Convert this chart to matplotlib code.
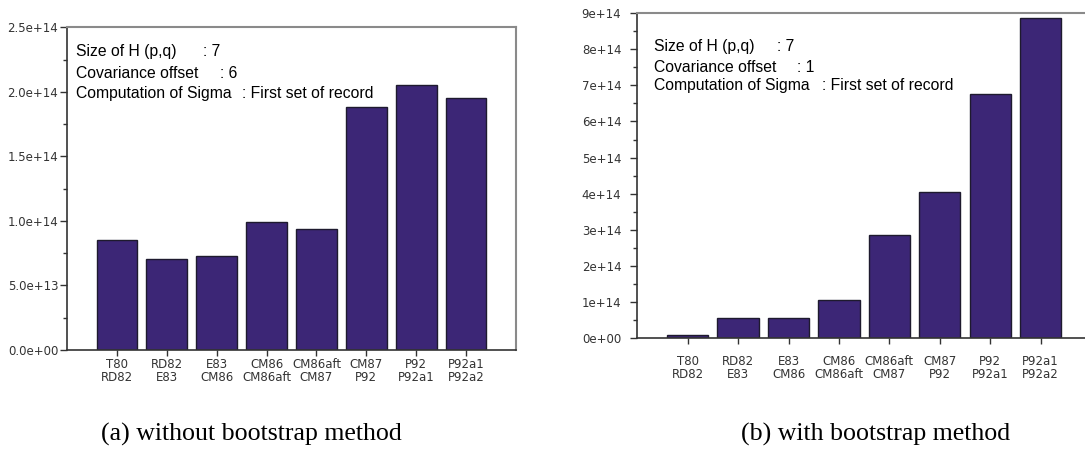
import matplotlib.pyplot as plt
from matplotlib.ticker import MultipleLocator, FuncFormatter

pairs = ['T80\nRD82', 'RD82\nE83', 'E83\nCM86', 'CM86\nCM86aft',
         'CM86aft\nCM87', 'CM87\nP92', 'P92\nP92a1', 'P92a1\nP92a2']

# (a) without bootstrap method
values_a = [8.5e13, 7.03e13, 7.26e13, 9.92e13, 9.39e13, 1.886e14, 2.052e14, 1.953e14]
# (b) with bootstrap method
values_b = [8.4e12, 5.53e13, 5.53e13, 1.04e14, 2.85e14, 4.05e14, 6.75e14, 8.87e14]

info_labels = ['Size of H (p,q)', 'Covariance offset', 'Computation of Sigma']
info_a = [': 7', ': 6', ': First set of record']
info_b = [': 7', ': 1', ': First set of record']

bar_color = '#3c2676'
edge_color = '#1e1a2e'
tick_color = '#333333'

plt.rcParams['font.family'] = ['Liberation Sans', 'DejaVu Sans']

fig = plt.figure(figsize=(10.85, 4.5), dpi=100)

ax1 = fig.add_axes([0.0619, 0.2227, 0.4136, 0.7162])
ax2 = fig.add_axes([0.5874, 0.2489, 0.4182, 0.7218])

x = list(range(len(pairs)))

def style(ax, ypad, xpad):
    ax.set_xlim(-1, 8)
    ax.set_xticks(x)
    ax.set_xticklabels(pairs, fontsize=8.5, family='DejaVu Sans',
                       linespacing=1.0, color=tick_color)
    ax.tick_params(axis='x', length=4, width=1, pad=xpad, colors=tick_color)
    ax.tick_params(axis='y', which='major', length=5, width=1, pad=ypad,
                   labelsize=8.5, colors=tick_color)
    ax.tick_params(axis='y', which='minor', length=3, width=1, colors=tick_color)
    for t in ax.get_yticklabels():
        t.set_family('DejaVu Sans')
    ax.spines['left'].set_color('#333333')
    ax.spines['bottom'].set_color('#333333')
    ax.spines['left'].set_linewidth(1.2)
    ax.spines['bottom'].set_linewidth(1.2)
    ax.spines['top'].set_color('#8a8a8a')
    ax.spines['right'].set_color('#8a8a8a')
    ax.spines['top'].set_linewidth(1.5)
    ax.spines['right'].set_linewidth(1.5)

# left chart
ax1.bar(x, values_a, width=0.82, color=bar_color, edgecolor=edge_color, linewidth=1)
ax1.set_ylim(0, 2.5e14)
ax1.yaxis.set_major_locator(MultipleLocator(5e13))
ax1.yaxis.set_minor_locator(MultipleLocator(2.5e13))
ax1.yaxis.set_major_formatter(FuncFormatter(lambda v, p: '{:.1e}'.format(v)))
style(ax1, 1.5, 1.8)

label_y_a = [0.927, 0.858, 0.795]
colon_x_a = [0.3026, 0.340, 0.389]
for lab, val, yy, cx in zip(info_labels, info_a, label_y_a, colon_x_a):
    ax1.text(0.0205, yy, lab, transform=ax1.transAxes, fontsize=11.3, va='center')
    ax1.text(cx, yy, val, transform=ax1.transAxes, fontsize=11.3, va='center')

# right chart
ax2.bar(x, values_b, width=0.82, color=bar_color, edgecolor=edge_color, linewidth=1)
ax2.set_ylim(0, 9e14)
ax2.yaxis.set_major_locator(MultipleLocator(1e14))
ax2.yaxis.set_minor_locator(MultipleLocator(5e13))
ax2.yaxis.set_major_formatter(FuncFormatter(lambda v, p: '{:.0e}'.format(v)))
style(ax2, 6.5, 8)

label_y_b = [0.896, 0.834, 0.776]
colon_x_b = [0.308, 0.352, 0.407]
for lab, val, yy, cx in zip(info_labels, info_b, label_y_b, colon_x_b):
    ax2.text(0.0368, yy, lab, transform=ax2.transAxes, fontsize=11.3, va='center')
    ax2.text(cx, yy, val, transform=ax2.transAxes, fontsize=11.3, va='center')

fig.text(0.232, 0.022, '(a) without bootstrap method', fontsize=18.6,
         family='Liberation Serif', ha='center', va='baseline')
fig.text(0.8074, 0.022, '(b) with bootstrap method', fontsize=18.6,
         family='Liberation Serif', ha='center', va='baseline')

plt.savefig('out.png', dpi=100)
